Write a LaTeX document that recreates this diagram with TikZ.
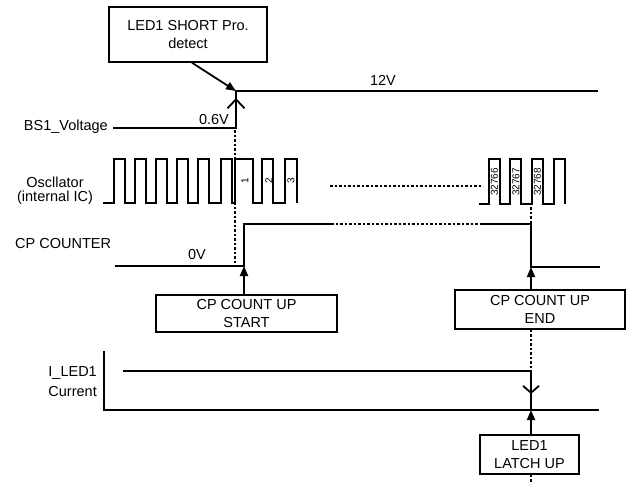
\documentclass[tikz,border=0pt]{standalone}
\usepackage{fontspec}
\setmainfont{Liberation Sans}
\usetikzlibrary{arrows.meta}
\begin{document}
\begin{tikzpicture}[x=1pt,y=-1pt,
  sig/.style={line width=1.8pt},
  dots/.style={line width=1.8pt, dash pattern=on 2.5pt off 2pt},
  box/.style={draw, line width=1.5pt, align=center, inner sep=0pt,
    font=\fontsize{14.5}{18}\selectfont},
  lbl/.style={inner sep=0pt, font=\fontsize{14.5}{16}\selectfont},
  num/.style={inner sep=0pt, rotate=90, font=\fontsize{10}{10}\selectfont},
  fillarrow/.style={line width=1.8pt, -{Triangle[length=10pt,width=8pt]}},
  openup/.style={line width=1.8pt, -{Straight Barb[length=9pt,width=17pt]}},
  opendown/.style={line width=1.8pt, -{Straight Barb[length=7pt,width=16pt]}}
]
\useasboundingbox (0,0) rectangle (628,483);

% boxes
\node[box, minimum width=158pt, minimum height=55pt] (short) at (188,34.5) {LED1 SHORT Pro.\\detect};
\node[box, minimum width=181pt, minimum height=37pt] (start) at (246.5,313.5) {CP COUNT UP\\START};
\node[box, minimum width=170pt, minimum height=39pt] (endb) at (540,309.5) {CP COUNT UP\\END};
\node[box, minimum width=99pt, minimum height=39pt] (latch) at (529.5,454.5) {LED1\\LATCH UP};

% named points
\coordinate (bsup) at (236,91);
\coordinate (cprise) at (244,266);
\coordinate (cpfall) at (531,267);
\coordinate (ifall) at (531,410);
\coordinate (idot) at (531,371);
\coordinate (bottom) at (531,483);

% signal labels
\node[lbl, anchor=east] (lbs) at (108,127) {BS1\_Voltage};
\node[lbl] (losc1) at (55,182) {Oscllator};
\node[lbl] (losc2) at (55,198) {(internal IC)};
\node[lbl, anchor=west] (lcp) at (15,244) {CP COUNTER};
\node[lbl, anchor=east] (li1) at (97,373) {I\_LED1};
\node[lbl, anchor=east] (li2) at (97,391) {Current};
\node[lbl] (l12) at (383,80) {12V};
\node[lbl] (l06) at (214,120) {0.6V};
\node[lbl] (l0v) at (197,254) {0V};

% BS1 voltage
\draw[sig] (113,128) -- (236,128) -- (bsup) -- (598,91);
\draw[openup] (236,115) -- (236,98);
\draw[dots] (235,130) -- (235,263);

% oscillator
\draw[sig] (103,203)
  foreach \a/\b in {114/125,135/146,156/167,177/188,198/209,221/232,235/253,262/273,285/297}
  { -- (\a,203) -- (\a,159) -- (\b,159) -- (\b,203) };
\draw[sig] (479,204)
  foreach \a/\b in {489/500,510/521,532/543,554/565}
  { -- (\a,204) -- (\a,159) -- (\b,159) -- (\b,204) };
\draw[dots] (330,186) -- (483,186);
\node[num] at (245,181) {1};
\node[num] at (269,181) {2};
\node[num] at (291,181) {3};
\node[num] at (494.5,182) {32766};
\node[num] at (516,182) {32767};
\node[num] at (537.5,182) {32768};
\draw[dots] (531,207) -- (531,224);

% CP counter
\draw[sig] (115,266) -- (cprise) -- (244,224) -- (331,224);
\draw[dots] (331,224) -- (480,224);
\draw[sig] (480,224) -- (531,224) -- (cpfall) -- (600,267);

% I_LED1 current
\draw[sig] (104,351) -- (104,410) -- (599,410);
\draw[sig] (123,371) -- (idot) -- (ifall);
\draw[opendown] (531,380) -- (531,394);

% connectors
\draw[fillarrow] ([xshift=4pt]short.south) -- (bsup);
\draw[fillarrow] ([xshift=-2.5pt]start.north) -- (cprise);
\draw[fillarrow] ([xshift=-9pt]endb.north) -- (cpfall);
\draw[fillarrow] ([xshift=1.5pt]latch.north) -- (ifall);
\draw[dots] ([xshift=-9pt]endb.south) -- (idot);
\draw[dots] ([xshift=1.5pt]latch.south) -- (bottom);
\end{tikzpicture}
\end{document}
